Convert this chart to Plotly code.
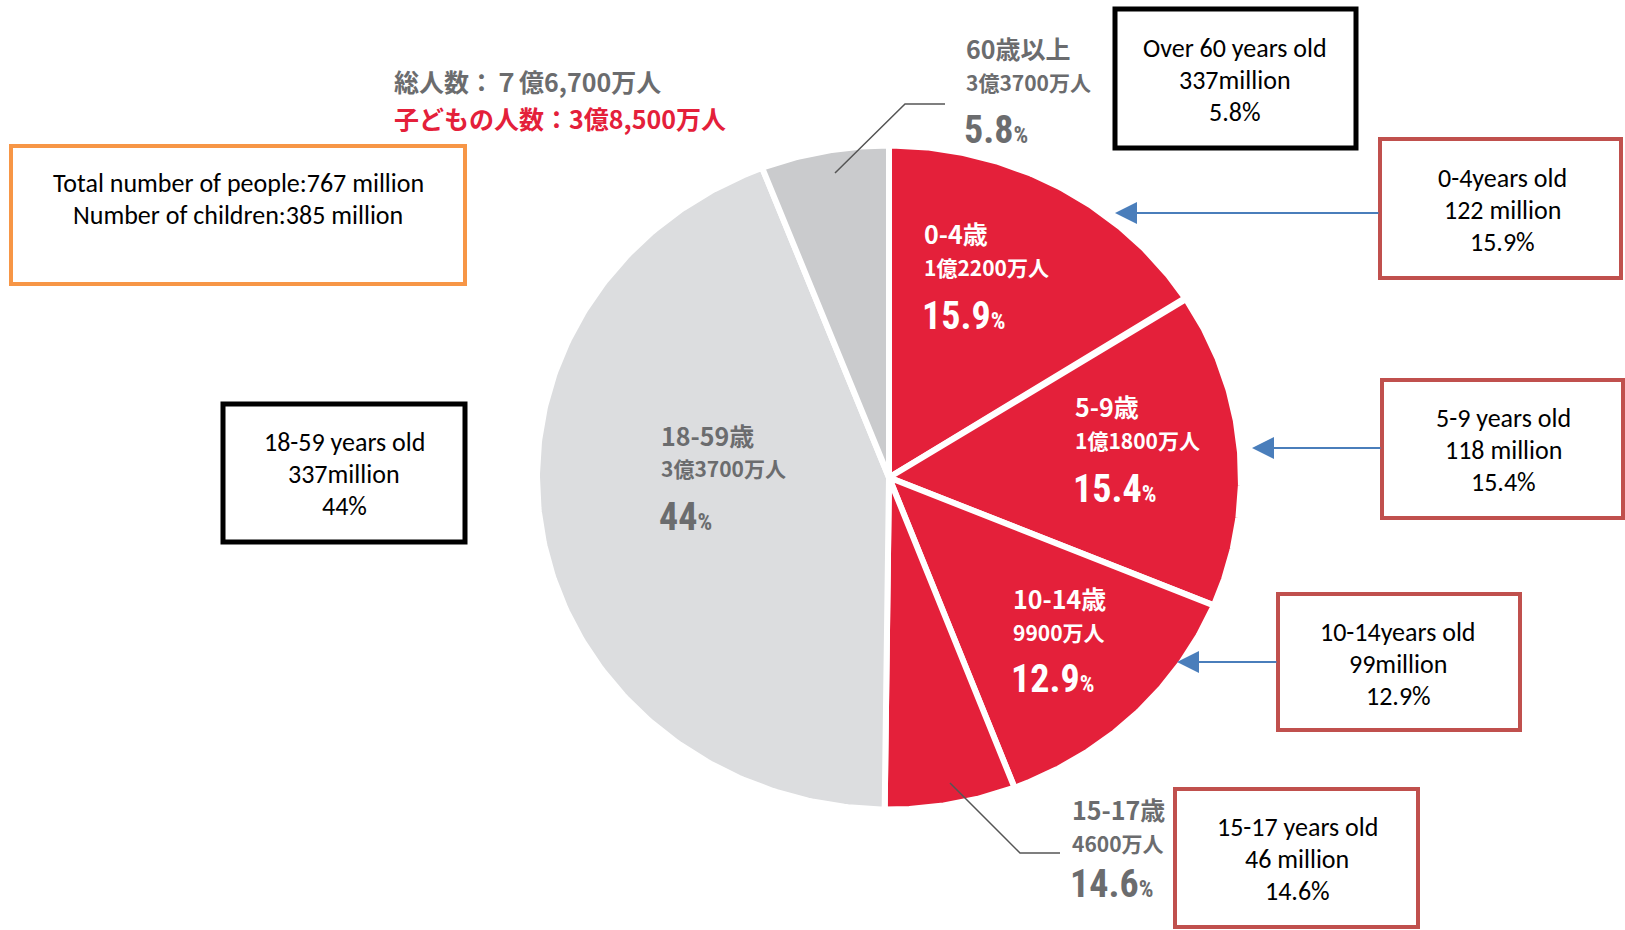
import numpy as np
import plotly.graph_objects as go

# ---------------- data ----------------
age_groups_jp = ["0-4歳", "5-9歳", "10-14歳", "15-17歳", "18-59歳", "60歳以上"]
people_jp = ["1億2200万人", "1億1800万人", "9900万人", "4600万人", "3億3700万人", "3億3700万人"]
population_millions = [122, 118, 99, 46, 337, 45]
percent_labels = ["15.9", "15.4", "12.9", "14.6", "44", "5.8"]
english_labels = [
    ["0-4years old", "122 million", "15.9%"],
    ["5-9 years old", "118 million", "15.4%"],
    ["10-14years old", "99million", "12.9%"],
    ["15-17 years old", "46 million", "14.6%"],
    ["18-59 years old", "337million", "44%"],
    ["Over 60 years old", "337million", "5.8%"],
]
total_jp = "総人数：７億6,700万人"
children_jp = "子どもの人数：3億8,500万人"
summary_en = ["Total number of people:767 million", "Number of children:385 million"]

# ---------------- styles / layout ----------------
W, H = 1625, 930
CX, CY, RX, RY = 889, 477.5, 352, 332
RED = "#E4203A"
slice_colors = [RED, RED, RED, RED, "#DCDDDF", "#CACBCD"]
GRAY_TXT = "#6B6C6E"
JP_FONT = "Noto Sans CJK JP"
NUM_FONT = ("Noto Sans ExtraCondensed, Noto Sans Condensed, Roboto Condensed, "
            "Liberation Sans Narrow, DejaVu Sans Condensed, Noto Sans, sans-serif")
EN_FONT = "Calibri, Carlito, Lato, sans-serif"
EN_SIZE = 26
LINE_GAP = 32

fig = go.Figure()

vals = np.array(population_millions, dtype=float)
cum = np.concatenate([[0.0], np.cumsum(vals)]) / vals.sum()
for i in range(len(vals)):
    t = np.linspace(cum[i], cum[i + 1], 240) * 2 * np.pi
    xs = np.concatenate([[CX], CX + RX * np.sin(t), [CX]])
    ys = np.concatenate([[CY], CY - RY * np.cos(t), [CY]])
    fig.add_trace(go.Scatter(
        x=xs, y=ys, mode="lines", fill="toself", fillcolor=slice_colors[i],
        line=dict(color="white", width=6), hoverinfo="skip", showlegend=False,
        name=age_groups_jp[i],
    ))

annotations = []

# slice labels: (x, y_name, y_people, y_pct, color)
label_pos = [
    (922, 233, 267, 316, "white"),
    (1073, 406, 440, 489, "white"),
    (1011, 598, 632, 679, "white"),
    (1070, 809, 843, 884, GRAY_TXT),
    (659, 435, 468, 517, GRAY_TXT),
    (964, 48, 82, 130, GRAY_TXT),
]
for i, (lx, y1, y2, y3, col) in enumerate(label_pos):
    annotations.append(dict(x=lx, y=y1, xref="x", yref="y", text="<b>" + age_groups_jp[i] + "</b>",
                            showarrow=False, xanchor="left", yanchor="middle",
                            font=dict(family=JP_FONT, size=25, color=col)))
    annotations.append(dict(x=lx, y=y2, xref="x", yref="y", text="<b>" + people_jp[i] + "</b>",
                            showarrow=False, xanchor="left", yanchor="middle",
                            font=dict(family=JP_FONT, size=21, color=col)))
    annotations.append(dict(x=lx - 2, y=y3, xref="x", yref="y",
                            text="<span style='font-stretch:condensed'><b>" + percent_labels[i]
                                 + "<span style='font-size:23px'>%</span></b></span>",
                            showarrow=False, xanchor="left", yanchor="middle",
                            font=dict(family=NUM_FONT, size=38, color=col)))

# headline texts
annotations.append(dict(x=392, y=81, xref="x", yref="y", text="<b>" + total_jp + "</b>", showarrow=False,
                        xanchor="left", yanchor="middle", font=dict(family=JP_FONT, size=25, color=GRAY_TXT)))
annotations.append(dict(x=392, y=118, xref="x", yref="y", text="<b>" + children_jp + "</b>", showarrow=False,
                        xanchor="left", yanchor="middle", font=dict(family=JP_FONT, size=25, color=RED)))

# english boxes
BOX_RED, BOX_BLK, BOX_ORG = "#C0504D", "#000000", "#F79646"
boxes = [
    # (x0, x1, y0, y1, color, width, lines, tx, first line y)
    (1380, 1621, 139, 278, BOX_RED, 4, english_labels[0], 1502, 178),
    (1382, 1623, 380, 518, BOX_RED, 4, english_labels[1], 1503, 418),
    (1278, 1520, 594, 730, BOX_RED, 4, english_labels[2], 1398, 632),
    (1175, 1418, 789, 927, BOX_RED, 4, english_labels[3], 1297, 827),
    (223, 465, 404, 542, BOX_BLK, 5, english_labels[4], 344, 442),
    (1115, 1356, 9, 148, BOX_BLK, 5, english_labels[5], 1235, 48),
    (11, 465, 146, 284, BOX_ORG, 4, summary_en, 238, 183),
]
shapes = []
for x0, x1, y0, y1, col, lw, lines, tx, ty in boxes:
    shapes.append(dict(type="rect", xref="x", yref="y", x0=x0, x1=x1, y0=y0, y1=y1,
                       line=dict(color=col, width=lw), fillcolor="rgba(0,0,0,0)", layer="above"))
    for k, txt in enumerate(lines):
        annotations.append(dict(x=tx, y=ty + k * LINE_GAP, xref="x", yref="y", text=txt, showarrow=False,
                                xanchor="center", yanchor="middle", align="center",
                                font=dict(family=EN_FONT, size=EN_SIZE, color="#000000")))

# arrows (tail at box, head at pie)
arrows = [(1380, 213, 1115, 213), (1382, 448, 1252, 448), (1278, 662, 1177, 662)]
for ax_, ay_, x_, y_ in arrows:
    annotations.append(dict(x=x_, y=y_, ax=ax_, ay=ay_, xref="x", yref="y", axref="x", ayref="y",
                            text="", showarrow=True, arrowhead=2, arrowsize=2.2, arrowwidth=2,
                            arrowcolor="#4A7EBB", standoff=0, startstandoff=0))

# leader lines
shapes.append(dict(type="path", xref="x", yref="y", path="M 835 173 L 905 104 L 945 104",
                   line=dict(color="#555555", width=1.5)))
shapes.append(dict(type="path", xref="x", yref="y", path="M 950 783 L 1020 853 L 1060 853",
                   line=dict(color="#555555", width=1.5)))

fig.update_layout(
    width=W, height=H, margin=dict(l=0, r=0, t=0, b=0),
    paper_bgcolor="white", plot_bgcolor="white",
    xaxis=dict(range=[0, W], visible=False, fixedrange=True),
    yaxis=dict(range=[H, 0], visible=False, fixedrange=True),
    shapes=shapes, annotations=annotations, showlegend=False,
)
fig.write_html("out.html")
